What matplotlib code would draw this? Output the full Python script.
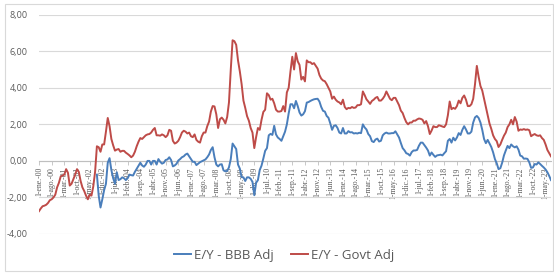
import numpy as np
import pandas as pd
import matplotlib
matplotlib.use("Agg")
import matplotlib.pyplot as plt
from matplotlib.patches import Rectangle

plt.rcParams["font.family"] = ["Open Sans", "DejaVu Sans"]

# ------------------------------------------------------------
# Data (monthly)
# ------------------------------------------------------------

MONTHS = pd.date_range("2000-01-01", "2023-08-01", freq="MS")
BLUE_START = "2002-09-01"

GOVT_ADJ = [
    -2.75, -2.60, -2.48, -2.45, -2.40, -2.30, -2.15, -2.10, -2.00, -1.85,
    -1.45, -1.20, -0.85, -0.80, -0.75, -0.45, -0.65, -1.35, -1.25, -1.00,
    -0.75, -0.45, -0.60, -1.10, -1.45, -1.65, -1.90, -2.10, -1.85, -1.90,
    -1.40, -0.60, 0.80, 0.75, 0.50, 0.90, 0.90, 1.60, 2.35, 1.90,
    1.20, 0.85, 0.56, 0.62, 0.65, 0.50, 0.55, 0.55, 0.45, 0.38,
    0.30, 0.20, 0.29, 0.50, 0.80, 1.05, 1.25, 1.20, 1.30, 1.40,
    1.45, 1.47, 1.55, 1.70, 1.80, 1.40, 1.40, 1.38, 1.45, 1.40,
    1.30, 1.40, 1.70, 1.65, 1.10, 0.95, 1.00, 1.10, 1.30, 1.55,
    1.65, 1.60, 1.50, 1.55, 1.35, 1.30, 1.45, 1.15, 1.05, 1.00,
    1.35, 1.55, 1.55, 1.90, 2.15, 2.70, 3.00, 2.98, 2.55, 1.80,
    2.28, 2.37, 2.25, 2.05, 2.40, 3.20, 5.00, 6.60, 6.55, 6.35,
    5.50, 4.90, 4.20, 3.30, 2.90, 2.45, 2.20, 1.80, 1.55, 0.70,
    1.30, 1.80, 1.70, 2.25, 2.68, 2.80, 3.70, 3.60, 3.35, 3.40,
    3.15, 2.80, 2.70, 2.70, 2.73, 3.00, 2.70, 3.75, 4.00, 4.90,
    5.70, 5.00, 5.90, 5.45, 5.25, 4.45, 4.60, 4.35, 5.50, 5.40,
    5.40, 5.30, 5.35, 5.20, 5.05, 4.70, 4.50, 4.40, 4.36, 4.20,
    4.00, 3.80, 3.40, 3.52, 3.35, 3.25, 3.20, 3.10, 3.35, 2.95,
    2.83, 2.90, 2.88, 2.95, 2.90, 2.92, 3.05, 3.05, 3.10, 3.80,
    3.60, 3.37, 3.25, 3.12, 3.28, 3.35, 3.45, 3.50, 3.30, 3.30,
    3.40, 3.55, 3.80, 3.60, 3.40, 3.32, 3.45, 3.45, 3.25, 3.05,
    2.75, 2.62, 2.35, 2.12, 2.00, 2.10, 2.10, 2.20, 2.20, 2.27,
    2.32, 2.30, 2.25, 2.05, 2.18, 1.90, 1.47, 1.66, 1.90, 1.85,
    1.85, 1.95, 1.92, 1.88, 1.85, 2.00, 2.50, 3.25, 2.83, 2.90,
    2.85, 3.00, 3.30, 3.15, 3.45, 3.58, 3.35, 3.00, 3.00, 3.10,
    3.40, 4.20, 5.20, 4.60, 4.10, 3.85, 3.40, 2.95, 2.50, 2.05,
    1.75, 1.40, 1.20, 1.08, 0.76, 0.90, 1.15, 1.38, 1.55, 1.85,
    2.00, 2.25, 2.00, 2.40, 2.15, 1.65, 1.72, 1.70, 1.74, 1.70,
    1.72, 1.68, 1.35, 1.42, 1.47, 1.40, 1.37, 1.40, 1.25, 1.15,
    0.90, 0.60, 0.42, 0.25,
]

BBB_ADJ = [
    -0.75, -1.90, -2.55, -2.10, -1.60, -1.25, -0.10, 0.15, -0.50, -0.95,
    -1.25, -0.62, -1.05, -1.00, -0.90, -0.95, -1.05, -0.95, -0.75, -0.78,
    -0.80, -0.60, -0.43, -0.25, -0.10, -0.25, -0.32, -0.20, 0.00, 0.00,
    -0.20, 0.00, 0.00, -0.20, 0.10, -0.05, -0.15, -0.10, 0.05, 0.08,
    0.20, 0.05, -0.30, -0.25, -0.16, 0.02, 0.10, 0.20, 0.25, 0.35,
    0.40, 0.25, 0.10, -0.05, -0.05, -0.23, -0.15, -0.07, -0.02, 0.03,
    0.08, 0.20, 0.35, 0.60, 0.75, 0.20, -0.20, -0.30, -0.20, -0.18,
    -0.52, -0.57, -0.55, -0.35, 0.10, 0.95, 0.80, 0.65, -0.20, -0.42,
    -0.89, -0.90, -1.10, -0.90, -0.90, -0.98, -1.15, -1.88, -1.20, -1.05,
    -0.50, -0.26, 0.13, 0.55, 0.70, 1.40, 1.48, 1.42, 1.92, 1.45,
    1.28, 1.20, 1.10, 1.35, 1.60, 2.00, 2.60, 3.10, 3.10, 2.88,
    3.28, 3.00, 2.65, 2.48, 2.55, 2.72, 3.19, 3.22, 3.28, 3.33,
    3.37, 3.39, 3.40, 3.25, 2.95, 2.74, 2.70, 2.46, 2.36, 2.05,
    1.70, 1.92, 1.95, 1.80, 1.55, 1.50, 1.80, 1.50, 1.50, 1.63,
    1.56, 1.57, 1.50, 1.52, 1.50, 1.54, 1.52, 2.00, 1.83, 1.72,
    1.47, 1.35, 1.08, 1.03, 1.17, 1.22, 1.06, 1.10, 1.40, 1.50,
    1.55, 1.50, 1.50, 1.52, 1.52, 1.62, 1.45, 1.28, 0.98, 0.70,
    0.58, 0.42, 0.38, 0.29, 0.48, 0.57, 0.57, 0.60, 0.83, 1.00,
    1.00, 0.87, 0.73, 0.57, 0.29, 0.46, 0.33, 0.22, 0.30, 0.32,
    0.34, 0.30, 0.42, 0.53, 1.10, 1.20, 1.00, 1.27, 1.12, 1.28,
    1.52, 1.42, 1.70, 1.90, 1.72, 1.50, 1.50, 1.60, 2.10, 2.38,
    2.46, 2.35, 2.10, 1.70, 1.20, 0.97, 1.15, 0.95, 0.76, 0.47,
    0.10, -0.13, -0.45, -0.40, -0.10, 0.30, 0.57, 0.82, 0.70, 0.90,
    0.80, 0.74, 0.80, 0.62, 0.29, 0.25, 0.12, 0.13, 0.11, -0.08,
    -0.38, -0.36, -0.17, -0.20, -0.08, -0.17, -0.27, -0.36, -0.47, -0.62,
    -0.82, -1.05,
]

TICK_LABELS = [
    "1-ene.-00", "1-ago.-00", "1-mar.-01", "1-oct.-01", "1-may.-02",
    "1-dic.-02", "1-jul.-03", "1-feb.-04", "1-sep.-04", "1-abr.-05",
    "1-nov.-05", "1-jun.-06", "1-ene.-07", "1-ago.-07", "1-mar.-08",
    "1-oct.-08", "1-may.-09", "1-dic.-09", "1-jul.-10", "1-feb.-11",
    "1-sep.-11", "1-abr.-12", "1-nov.-12", "1-jun.-13", "1-ene.-14",
    "1-ago.-14", "1-mar.-15", "1-oct.-15", "1-may.-16", "1-dic.-16",
    "1-jul.-17", "1-feb.-18", "1-sep.-18", "1-abr.-19", "1-nov.-19",
    "1-jun.-20", "1-ene.-21", "1-ago.-21", "1-mar.-22", "1-oct.-22",
    "1-may.-23",
]
TICK_STEP = 7

BLUE = "#4a7ebb"
RED = "#be4b48"
GREY_TEXT = "#595959"
GRID = "#d9d9d9"


def main():
    fig = plt.figure(figsize=(5.54, 2.73), dpi=100)
    ax = fig.add_axes([39 / 554, 1 - 234 / 273, 512 / 554, 219.3 / 273])

    x_all = np.arange(len(MONTHS))
    start = MONTHS.get_loc(pd.Timestamp(BLUE_START))
    x_blue = x_all[start:start + len(BBB_ADJ)]

    ax.plot(x_blue, BBB_ADJ, color=BLUE, lw=1.4, label="E/Y - BBB Adj", zorder=3)
    ax.plot(x_all, GOVT_ADJ, color=RED, lw=1.4, label="E/Y - Govt Adj", zorder=3)

    # spine moved first: set_position resets the tick objects
    for side in ["top", "right", "left"]:
        ax.spines[side].set_visible(False)
    ax.spines["bottom"].set_position(("data", 0))
    ax.spines["bottom"].set_color("#bfbfbf")
    ax.spines["bottom"].set_linewidth(0.8)

    ax.set_xlim(0, len(MONTHS) - 1)
    ax.set_ylim(-4, 8)
    ax.set_yticks(np.arange(-4, 9, 2))
    ax.set_yticklabels([f"{v:.2f}".replace(".", ",") for v in np.arange(-4, 9, 2)])
    ax.yaxis.grid(True, color=GRID, lw=0.8, zorder=0)
    ax.tick_params(axis="y", length=0, pad=8, labelsize=6.5, labelcolor=GREY_TEXT)

    ax.set_xticks(x_all[::TICK_STEP][:len(TICK_LABELS)])
    ax.set_xticklabels(TICK_LABELS, family=["Liberation Serif", "DejaVu Serif"])
    ax.tick_params(axis="x", length=3, width=0.6, color="#bfbfbf", pad=1.5,
                   labelsize=5.6, labelcolor=GREY_TEXT, labelrotation=90)

    fig.legend(loc="center", bbox_to_anchor=(284 / 554, 1 - 255 / 273), ncol=2,
               frameon=False, fontsize=9.5, handlelength=1.3, columnspacing=1.3,
               handletextpad=0.2, labelcolor=GREY_TEXT)

    fig.patches.append(Rectangle((5 / 554, 2 / 273), 548 / 554, 267 / 273,
                                 transform=fig.transFigure, fill=False,
                                 edgecolor=GRID, lw=0.8))

    fig.savefig("out.png", dpi=100)
    plt.close(fig)


if __name__ == "__main__":
    main()
